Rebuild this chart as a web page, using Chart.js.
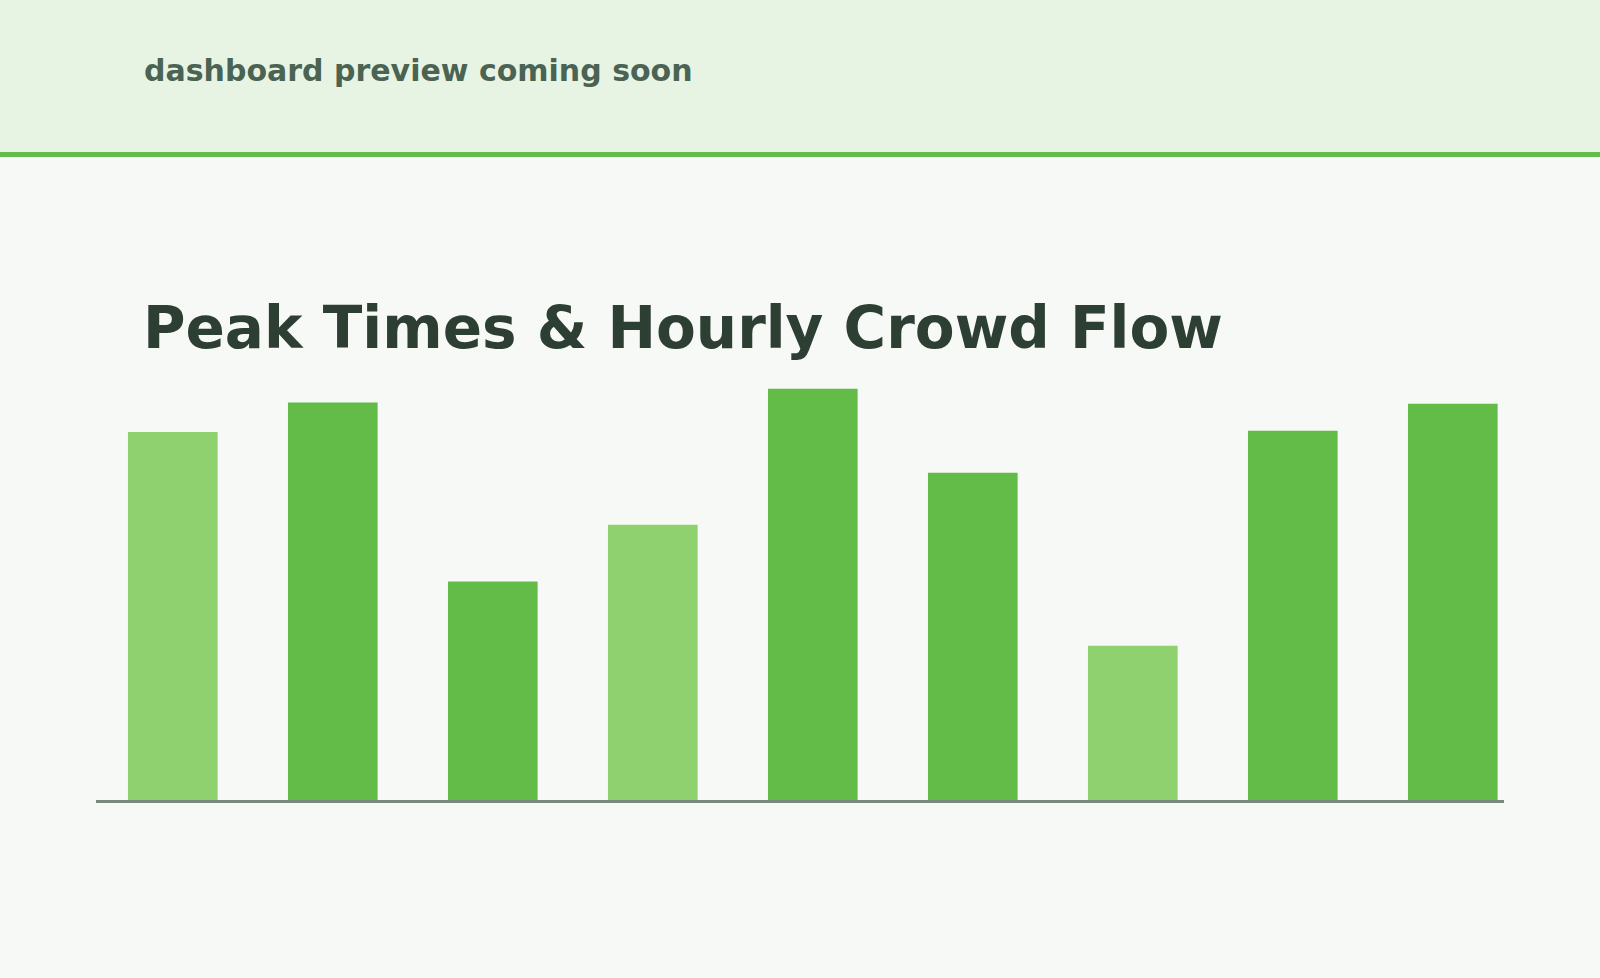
<!DOCTYPE html>
<html>
<head>
<meta charset="utf-8">
<script src="https://cdn.jsdelivr.net/npm/chart.js@4.4.1/dist/chart.umd.min.js"></script>
<style>
  html, body { margin: 0; padding: 0; }
  body { width: 1600px; height: 978px; background: #f7f9f6; position: relative; overflow: hidden; font-family: "DejaVu Sans", sans-serif; }
  #header { position: absolute; left: 0; top: 0; width: 1600px; height: 152px; background: #e8f4e3; border-bottom: 5px solid #63bb48; }
  #sub { position: absolute; left: 144px; top: 55.6px; font-size: 30px; line-height: 30px; font-weight: bold; color: #4a6352; white-space: nowrap; }
  #title { position: absolute; left: 143px; top: 299px; font-size: 58px; line-height: 58px; font-weight: bold; color: #2d3e33; white-space: nowrap; }
  #wrap { position: absolute; left: 96px; top: 361px; width: 1408px; height: 444px; }
</style>
</head>
<body>
<div id="header"><div id="sub">dashboard preview coming soon</div></div>
<div id="title">Peak Times &amp; Hourly Crowd Flow</div>
<div id="wrap"><canvas id="c"></canvas></div>
<script>
const hours = ['9 AM', '10 AM', '11 AM', '12 PM', '1 PM', '2 PM', '3 PM', '4 PM', '5 PM'];
const crowdFlow = [83.8, 90.5, 49.8, 62.7, 93.6, 74.5, 35.2, 84.1, 90.2];
const isOffPeak = [true, false, false, true, false, false, true, false, false];
const lightGreen = '#8fd16f';
const darkGreen = '#63bb48';

const points = hours.map((h, i) => ({ x: i, y: crowdFlow[i], label: h }));

new Chart(document.getElementById('c'), {
  type: 'bar',
  data: {
    datasets: [{
      label: 'Hourly crowd flow',
      data: points,
      backgroundColor: isOffPeak.map(o => o ? lightGreen : darkGreen),
      borderWidth: 0,
      barThickness: 89
    }]
  },
  options: {
    responsive: true,
    maintainAspectRatio: false,
    animation: false,
    layout: { padding: { top: 0, bottom: 4, left: 0, right: 0 } },
    plugins: { legend: { display: false }, tooltip: { enabled: false }, title: { display: false } },
    scales: {
      x: {
        type: 'linear',
        offset: false,
        min: -0.48,
        max: 8.32,
        grid: { display: false, drawTicks: false, offset: false },
        ticks: { display: false },
        border: { display: true, color: '#778a7c', width: 3, z: 1 }
      },
      y: {
        display: false,
        min: 0,
        max: 100
      }
    }
  }
});
</script>
</body>
</html>
